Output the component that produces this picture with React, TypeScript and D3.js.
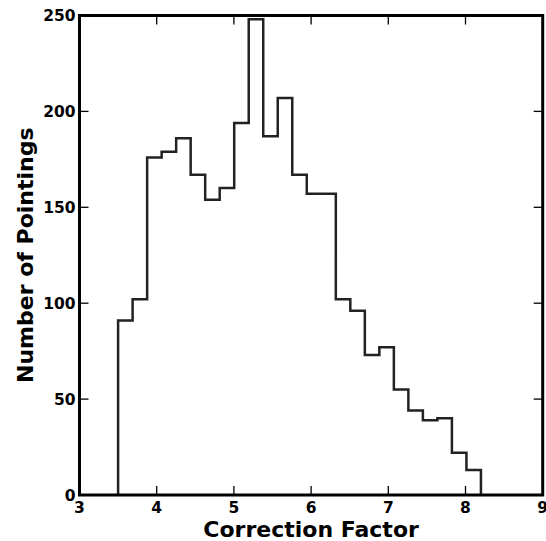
import * as d3 from "d3";
import React, { useEffect, useRef } from "react";

// histogram counts, 25 equal bins between binMin and binMax
const binMin = 3.5;
const binMax = 8.2;
const counts = [
  91, 102, 176, 179, 186, 167, 154, 160, 194, 248, 187, 207, 167, 157, 157,
  102, 96, 73, 77, 55, 44, 39, 40, 22, 13,
];
const xTicks = [3, 4, 5, 6, 7, 8, 9];
const yTicks = [0, 50, 100, 150, 200, 250];

export default function App() {
  const ref = useRef<SVGSVGElement>(null);

  useEffect(() => {
    const width = 546;
    const height = 541;
    const margin = { top: 15.5, right: 3.3, bottom: 46, left: 79.5 };
    const font = "'DejaVu Sans', sans-serif";

    const svg = d3.select(ref.current);
    svg.selectAll("*").remove();

    const x = d3.scaleLinear([3, 9], [margin.left, width - margin.right]);
    const y = d3.scaleLinear([0, 250], [height - margin.bottom, margin.top]);

    // bin edges from range and count
    const step = (binMax - binMin) / counts.length;
    const edges = d3.range(counts.length + 1).map((i) => binMin + i * step);

    // step outline like histtype='step'
    const pts: [number, number][] = [[edges[0], 0]];
    counts.forEach((c, i) => {
      pts.push([edges[i], c]);
      pts.push([edges[i + 1], c]);
    });
    pts.push([edges[edges.length - 1], 0]);

    svg
      .append("clipPath")
      .attr("id", "plotClip")
      .append("rect")
      .attr("x", x(3))
      .attr("y", y(250))
      .attr("width", x(9) - x(3))
      .attr("height", y(0) - y(250));

    const line = d3
      .line<[number, number]>()
      .x((d) => x(d[0]))
      .y((d) => y(d[1]));

    svg
      .append("path")
      .attr("d", line(pts))
      .attr("fill", "none")
      .attr("stroke", "#222")
      .attr("stroke-width", 2.5)
      .attr("stroke-linejoin", "miter")
      .attr("clip-path", "url(#plotClip)");

    // inward ticks on all four sides
    const tickLen = 9;
    const ticks = svg.append("g").attr("stroke", "#000").attr("stroke-width", 1.3);
    xTicks.forEach((t) => {
      ticks.append("line").attr("x1", x(t)).attr("x2", x(t)).attr("y1", y(0)).attr("y2", y(0) - tickLen);
      ticks.append("line").attr("x1", x(t)).attr("x2", x(t)).attr("y1", y(250)).attr("y2", y(250) + tickLen);
    });
    yTicks.forEach((t) => {
      ticks.append("line").attr("x1", x(3)).attr("x2", x(3) + tickLen).attr("y1", y(t)).attr("y2", y(t));
      ticks.append("line").attr("x1", x(9)).attr("x2", x(9) - tickLen).attr("y1", y(t)).attr("y2", y(t));
    });

    // frame
    svg
      .append("rect")
      .attr("x", x(3))
      .attr("y", y(250))
      .attr("width", x(9) - x(3))
      .attr("height", y(0) - y(250))
      .attr("fill", "none")
      .attr("stroke", "#000")
      .attr("stroke-width", 3);

    // tick labels
    svg
      .append("g")
      .selectAll("text")
      .data(xTicks)
      .join("text")
      .attr("x", (d) => x(d))
      .attr("y", y(0) + 18)
      .attr("text-anchor", "middle")
      .attr("font-family", font)
      .attr("font-weight", "bold")
      .attr("font-size", 15.5)
      .text((d) => d);

    svg
      .append("g")
      .selectAll("text")
      .data(yTicks)
      .join("text")
      .attr("x", x(3) - 4)
      .attr("y", (d) => y(d) + 5.5)
      .attr("text-anchor", "end")
      .attr("font-family", font)
      .attr("font-weight", "bold")
      .attr("font-size", 15.5)
      .text((d) => d);

    // axis titles
    svg
      .append("text")
      .attr("x", (x(3) + x(9)) / 2)
      .attr("y", 537)
      .attr("text-anchor", "middle")
      .attr("font-family", font)
      .attr("font-weight", "bold")
      .attr("font-size", 22)
      .text("Correction Factor");

    svg
      .append("text")
      .attr("transform", `translate(33,${(y(0) + y(250)) / 2}) rotate(-90)`)
      .attr("text-anchor", "middle")
      .attr("font-family", font)
      .attr("font-weight", "bold")
      .attr("font-size", 22)
      .text("Number of Pointings");
  }, []);

  return (
    <svg
      ref={ref}
      width={546}
      height={541}
      style={{ position: "absolute", left: 0, top: 0, background: "#fff" }}
    ></svg>
  );
}
